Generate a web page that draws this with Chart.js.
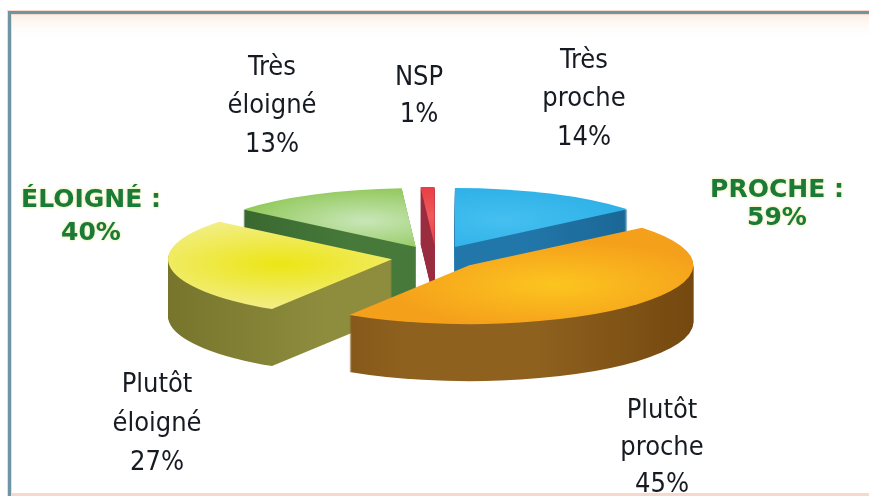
<!DOCTYPE html>
<html><head><meta charset="utf-8">
<script src="https://cdn.jsdelivr.net/npm/chart.js@4.4.1/dist/chart.umd.min.js"></script>
<style>html,body{margin:0;padding:0;background:#fff;overflow:hidden}#wrap{width:869px;height:496px;position:relative}</style>
</head><body><div id="wrap"><canvas id="c" width="869" height="496"></canvas></div>
<script>
// ---- data ----
const categories = ['Très proche', 'Plutôt proche', 'Plutôt éloigné', 'Très éloigné', 'NSP'];
const values = [14, 45, 27, 13, 1];
const sliceLabels = [['Très', 'proche', '14%'], ['Plutôt', 'proche', '45%'], ['Plutôt', 'éloigné', '27%'], ['Très', 'éloigné', '13%'], ['NSP', '1%']];
const groupLabels = [['PROCHE :', '59%'], ['ÉLOIGNÉ :', '40%']];

// ---- styles ----
const topEdge = ['#27ade5', '#f5a01b', '#f2ee86', '#80c03e', '#e3303a'];
const topCenter = ['#45bff0', '#fcc51f', '#ece514', '#c9e6b8', '#f05a5a'];
const sideLight = ['#2277aa', '#8f611f', '#8e8c3d', '#46793a', '#9a2c40'];
const sideDark = ['#175f8c', '#74480f', '#77752c', '#33602a', '#7a1f30'];
const SQ = 0.263, DEPTH = 57, EXPLODE = 44.5;
const sliceLabelPos = [[584, [68, 106, 145]], [662, [418, 455, 492]], [157, [392, 431, 470]], [272, [75, 113, 152]], [419, [85, 122]]];
const groupLabelPos = [[777, [197, 225]], [91, [207, 240]]];

function drawArcWith(arc, ctx, color) {
  const proxy = Object.create(arc);
  proxy.options = Object.assign({}, arc.options, {backgroundColor: color, borderWidth: 0, offset: 0});
  arc.draw.call(proxy, ctx);
}

const pie3d = {
  id: 'pie3d',
  beforeDraw(chart) {
    const ctx = chart.ctx;
    ctx.save();
    ctx.fillStyle = '#ffffff';
    ctx.fillRect(0, 0, 869, 496);
    let g = ctx.createLinearGradient(0, 14, 0, 40);
    g.addColorStop(0, '#fbeee4'); g.addColorStop(1, 'rgba(255,255,255,0)');
    ctx.fillStyle = g; ctx.fillRect(11, 14, 858, 26);
    ctx.fillStyle = '#f7d9cc';
    ctx.fillRect(7, 10, 862, 1); ctx.fillRect(11, 14, 858, 1);
    ctx.fillRect(7, 11, 1, 485); ctx.fillRect(11, 14, 1, 482);
    ctx.fillRect(7, 493, 862, 3);
    ctx.fillStyle = '#6f95a5';
    ctx.fillRect(8, 11, 861, 3);
    ctx.fillRect(8, 11, 3, 485);
    ctx.restore();
  },
  beforeDatasetDraw(chart, args) {
    const ctx = chart.ctx;
    const arcs = chart.getDatasetMeta(args.index).data;
    const cx = arcs[0].x, cy = arcs[0].y;
    const info = arcs.map((a, i) => {
      const h = (a.startAngle + a.endAngle) / 2;
      return {a, i, h, dx: Math.cos(h) * EXPLODE, dy: Math.sin(h) * EXPLODE};
    });
    const order = info.slice().sort((p, q) => p.dy - q.dy);
    function setup(shift, it) {
      ctx.translate(0, shift);
      ctx.translate(cx, cy); ctx.scale(1, SQ); ctx.translate(-cx, -cy);
      ctx.translate(it.dx, it.dy);
    }
    for (const it of order) {
      const R = it.a.outerRadius;
      for (let d = DEPTH; d >= 1; d--) {
        ctx.save(); setup(d, it);
        const sg = ctx.createLinearGradient(cx - R, 0, cx + R, 0);
        sg.addColorStop(0, sideDark[it.i]);
        sg.addColorStop(0.35, sideLight[it.i]);
        sg.addColorStop(0.65, sideLight[it.i]);
        sg.addColorStop(1, sideDark[it.i]);
        drawArcWith(it.a, ctx, sg);
        ctx.restore();
      }
    }
    for (const it of order) {
      const R = it.a.outerRadius;
      ctx.save(); setup(0, it);
      const gx = cx + Math.cos(it.h) * R * 0.5, gy = cy + Math.sin(it.h) * R * 0.5;
      const g = ctx.createRadialGradient(gx, gy, 0, gx, gy, R * 0.75);
      g.addColorStop(0, topCenter[it.i]);
      g.addColorStop(1, topEdge[it.i]);
      drawArcWith(it.a, ctx, g);
      ctx.restore();
    }
    return false;
  },
  afterDraw(chart) {
    const ctx = chart.ctx;
    ctx.save();
    ctx.textAlign = 'center';
    ctx.textBaseline = 'alphabetic';
    ctx.fillStyle = '#161a22';
    ctx.font = '27px "DejaVu Sans Condensed", "DejaVu Sans", sans-serif';
    sliceLabels.forEach((lines, i) => {
      const [x, ys] = sliceLabelPos[i];
      lines.forEach((t, j) => ctx.fillText(t, x, ys[j]));
    });
    ctx.font = 'bold 25px "DejaVu Sans", sans-serif';
    ctx.fillStyle = '#1a7a3a';
    ctx.shadowColor = 'rgba(225,225,110,0.9)';
    ctx.shadowBlur = 3;
    groupLabels.forEach((lines, i) => {
      const [x, ys] = groupLabelPos[i];
      lines.forEach((t, j) => ctx.fillText(t, x, ys[j]));
    });
    ctx.restore();
  }
};

new Chart(document.getElementById('c'), {
  type: 'pie',
  data: {
    labels: categories,
    datasets: [{data: values, backgroundColor: topEdge, borderWidth: 0, hoverOffset: 0}]
  },
  options: {
    responsive: false,
    animation: false,
    events: [],
    radius: 224,
    layout: {padding: {left: 3, top: 19, right: 0, bottom: 0}},
    plugins: {legend: {display: false}, tooltip: {enabled: false}}
  },
  plugins: [pie3d]
});
</script>
</body></html>
